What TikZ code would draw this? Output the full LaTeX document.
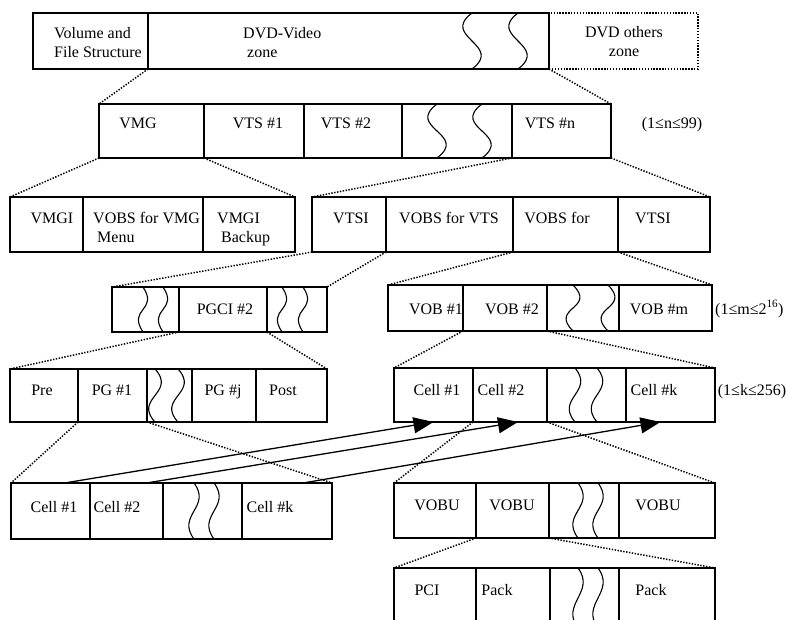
\documentclass[tikz,border=0pt]{standalone}
\usepackage{fontspec}
\setmainfont{Liberation Serif}
\usetikzlibrary{positioning,arrows.meta}
\newcommand{\wavecut}[3]{\draw[wave] ([xshift=#2pt]#1.north) .. controls +(#3,24) and +({-(#3)},-24) .. ([xshift=#2pt]#1.south);}

\begin{document}
\begin{tikzpicture}[x=1pt,y=-1pt,
  cell/.style={draw,line width=1.1pt,inner sep=0pt,outer sep=0pt,anchor=north west,minimum height=#1},
  lbl/.style={anchor=base,inner sep=0pt,font=\fontsize{16}{19}\selectfont},
  zoomline/.style={line width=1.5pt,dash pattern=on 1.4pt off 1.5pt},
  wave/.style={line width=1.1pt},
  link/.style={-{Triangle[length=20pt,width=16pt]},line width=1.3pt}]
\useasboundingbox (0,0) rectangle (786,620);
\clip (0,0) rectangle (786,620);

% disc
\node[cell=56pt,minimum width=115pt] (vfs) at (33,13) {};
\node[cell=56pt,minimum width=401pt,right=0pt of vfs] (dvdv) {};
\node[cell=56pt,zoomline,minimum width=149pt,right=0pt of dvdv] (others) {};
\wavecut{dvdv}{123.5}{-32}
\wavecut{dvdv}{169.5}{-32}
\node[lbl,anchor=base west,align=left] (vfs-t) at (54,58) {Volume and\\File Structure};
\node[lbl,anchor=base west,align=left] (dvdv-t) at (243,58) {DVD-Video\\\ zone};
\node[lbl,align=center] (others-t) at (624,57) {DVD others\\zone};

% video zone
\node[cell=54pt,minimum width=105pt] (vmg) at (99,104) {};
\node[cell=54pt,minimum width=100pt,right=0pt of vmg] (vts1) {};
\node[cell=54pt,minimum width=98pt,right=0pt of vts1] (vts2) {};
\node[cell=54pt,minimum width=110pt,right=0pt of vts2] (vtsgap) {};
\node[cell=54pt,minimum width=99pt,right=0pt of vtsgap] (vtsn) {};
\wavecut{vtsgap}{-20}{-32}
\wavecut{vtsgap}{25}{-32}
\node[lbl] (vmg-t) at (138,129) {VMG};
\node[lbl] (vts1-t) at (258,129) {VTS \#1};
\node[lbl] (vts2-t) at (346,129) {VTS \#2};
\node[lbl] (vtsn-t) at (550,129) {VTS \#n};
\node[lbl] (nrange) at (672,129) {(1≤n≤99)};

% VMG and VTS
\node[cell=55pt,minimum width=73pt] (vmgi) at (10,197) {};
\node[cell=55pt,minimum width=120pt,right=0pt of vmgi] (vobsvmg) {};
\node[cell=55pt,minimum width=92pt,right=0pt of vobsvmg] (vmgibk) {};
\node[cell=55pt,minimum width=74pt] (vtsi) at (312,197) {};
\node[cell=55pt,minimum width=127pt,right=0pt of vtsi] (vobsvts) {};
\node[cell=55pt,minimum width=105pt,right=0pt of vobsvts] (vobstt) {};
\node[cell=55pt,minimum width=92pt,right=0pt of vobstt] (vtsibk) {};
\node[lbl] (vmgi-t) at (52,223) {VMGI};
\node[lbl,anchor=base west,align=left] (vobsvmg-t) at (93,242) {VOBS for VMG\\\ Menu};
\node[lbl,anchor=base west,align=left] (vmgibk-t) at (217,242) {VMGI\\\ Backup};
\node[lbl] (vtsi-t) at (351,223) {VTSI};
\node[lbl] (vobsvts-t) at (449,223) {VOBS for VTS};
\node[lbl] (vobstt-t) at (557,223) {VOBS for};
\node[lbl] (vtsibk-t) at (653,223) {VTSI};

% PGCI and VOB
\node[cell=45pt,minimum width=67pt] (pgcia) at (112,287) {};
\node[cell=45pt,minimum width=88pt,right=0pt of pgcia] (pgci2) {};
\node[cell=45pt,minimum width=60pt,right=0pt of pgci2] (pgcib) {};
\wavecut{pgcia}{-2.5}{16}
\wavecut{pgcia}{17.5}{16}
\wavecut{pgcib}{-15}{16}
\wavecut{pgcib}{6}{16}
\node[cell=46pt,minimum width=75pt] (vob1) at (388,285) {};
\node[cell=46pt,minimum width=84pt,right=0pt of vob1] (vob2) {};
\node[cell=46pt,minimum width=72pt,right=0pt of vob2] (vobgap) {};
\node[cell=46pt,minimum width=93pt,right=0pt of vobgap] (vobm) {};
\wavecut{vobgap}{-10}{24}
\wavecut{vobgap}{25}{24}
\node[lbl] (pgci2-t) at (225,314) {PGCI \#2};
\node[lbl] (vob1-t) at (436,314) {VOB \#1};
\node[lbl] (vob2-t) at (512,314) {VOB \#2};
\node[lbl] (vobm-t) at (659,314) {VOB \#m};
\node[lbl,anchor=base west] (mrange) at (715,314) {(1≤m≤2\textsuperscript{16})};

% PG and cells
\node[cell=53pt,minimum width=68pt] (pre) at (10,369) {};
\node[cell=53pt,minimum width=69pt,right=0pt of pre] (pg1) {};
\node[cell=53pt,minimum width=45pt,right=0pt of pg1] (pggap) {};
\node[cell=53pt,minimum width=64pt,right=0pt of pggap] (pgj) {};
\node[cell=53pt,minimum width=71pt,right=0pt of pgj] (post) {};
\wavecut{pggap}{-14.5}{22}
\wavecut{pggap}{8.5}{22}
\node[cell=54pt,minimum width=79pt] (rcell1) at (394,368) {};
\node[cell=54pt,minimum width=74pt,right=0pt of rcell1] (rcell2) {};
\node[cell=54pt,minimum width=79pt,right=0pt of rcell2] (rcellgap) {};
\node[cell=54pt,minimum width=89pt,right=0pt of rcellgap] (rcellk) {};
\wavecut{rcellgap}{-11.5}{20}
\wavecut{rcellgap}{10.5}{20}
\node[lbl] (pre-t) at (42,395) {Pre};
\node[lbl] (pg1-t) at (112,395) {PG \#1};
\node[lbl] (pgj-t) at (223,395) {PG \#j};
\node[lbl] (post-t) at (283,395) {Post};
\node[lbl] (rcell1-t) at (437,395) {Cell \#1};
\node[lbl] (rcell2-t) at (501,395) {Cell \#2};
\node[lbl] (rcellk-t) at (654,395) {Cell \#k};
\node[lbl] (krange) at (752,395) {(1≤k≤256)};

% cells of a PG, VOBU
\node[cell=56pt,minimum width=79pt] (lcell1) at (11,483) {};
\node[cell=56pt,minimum width=73pt,right=0pt of lcell1] (lcell2) {};
\node[cell=56pt,minimum width=79pt,right=0pt of lcell2] (lcellgap) {};
\node[cell=56pt,minimum width=90pt,right=0pt of lcellgap] (lcellk) {};
\wavecut{lcellgap}{-8.5}{18}
\wavecut{lcellgap}{11.5}{18}
\node[cell=55pt,minimum width=82pt] (vobu1) at (394,483) {};
\node[cell=55pt,minimum width=73pt,right=0pt of vobu1] (vobu2) {};
\node[cell=55pt,minimum width=70pt,right=0pt of vobu2] (vobugap) {};
\node[cell=55pt,minimum width=96pt,right=0pt of vobugap] (vobun) {};
\wavecut{vobugap}{-6}{18}
\wavecut{vobugap}{14}{18}
\node[lbl] (lcell1-t) at (54,512) {Cell \#1};
\node[lbl] (lcell2-t) at (117,512) {Cell \#2};
\node[lbl] (lcellk-t) at (270,512) {Cell \#k};
\node[lbl] (vobu1-t) at (437,510) {VOBU};
\node[lbl] (vobu2-t) at (512,510) {VOBU};
\node[lbl] (vobun-t) at (658,510) {VOBU};

% packs
\node[cell=60pt,minimum width=82pt] (pci) at (394,568) {};
\node[cell=60pt,minimum width=74pt,right=0pt of pci] (pack) {};
\node[cell=60pt,minimum width=69pt,right=0pt of pack] (packgap) {};
\node[cell=60pt,minimum width=96pt,right=0pt of packgap] (packn) {};
\wavecut{packgap}{-6.5}{18}
\wavecut{packgap}{13.5}{18}
\node[lbl] (pci-t) at (427,595) {PCI};
\node[lbl] (pack-t) at (497,595) {Pack};
\node[lbl] (packn-t) at (651,595) {Pack};

% zoom lines
\draw[zoomline] (dvdv.south west) -- (vmg.north west);
\draw[zoomline] (dvdv.south east) -- (vtsn.north east);
\draw[zoomline] (vmg.south west) -- (vmgi.north west);
\draw[zoomline] (vmg.south east) -- (vmgibk.north east);
\draw[zoomline] (vtsn.south west) -- (vtsi.north west);
\draw[zoomline] (vtsn.south east) -- (vtsibk.north east);
\draw[zoomline] (vtsi.south west) -- (pgcia.north west);
\draw[zoomline] (vtsi.south east) -- (pgcib.north east);
\draw[zoomline] (vobstt.south west) -- (vob1.north west);
\draw[zoomline] (vobstt.south east) -- (vobm.north east);
\draw[zoomline] (pgci2.south west) -- (pre.north west);
\draw[zoomline] (pgci2.south east) -- (post.north east);
\draw[zoomline] (vob2.south west) -- (rcell1.north west);
\draw[zoomline] (vob2.south east) -- (rcellk.north east);
\draw[zoomline] (pg1.south west) -- (lcell1.north west);
\draw[zoomline] (pg1.south east) -- (lcellk.north east);
\draw[zoomline] (rcell2.south west) -- (vobu1.north west);
\draw[zoomline] (rcell2.south east) -- (vobun.north east);
\draw[zoomline] (vobu2.south west) -- (pci.north west);
\draw[zoomline] (vobu2.south east) -- (packn.north east);

% cell pointers
\draw[link] ([xshift=14pt]lcell1.north) -- (rcell1.south);
\draw[link] ([xshift=20pt]lcell2.north) -- ([xshift=8pt]rcell2.south);
\draw[link] ([xshift=16pt]lcellk.north) -- ([xshift=-10pt]rcellk.south);
\end{tikzpicture}
\end{document}
